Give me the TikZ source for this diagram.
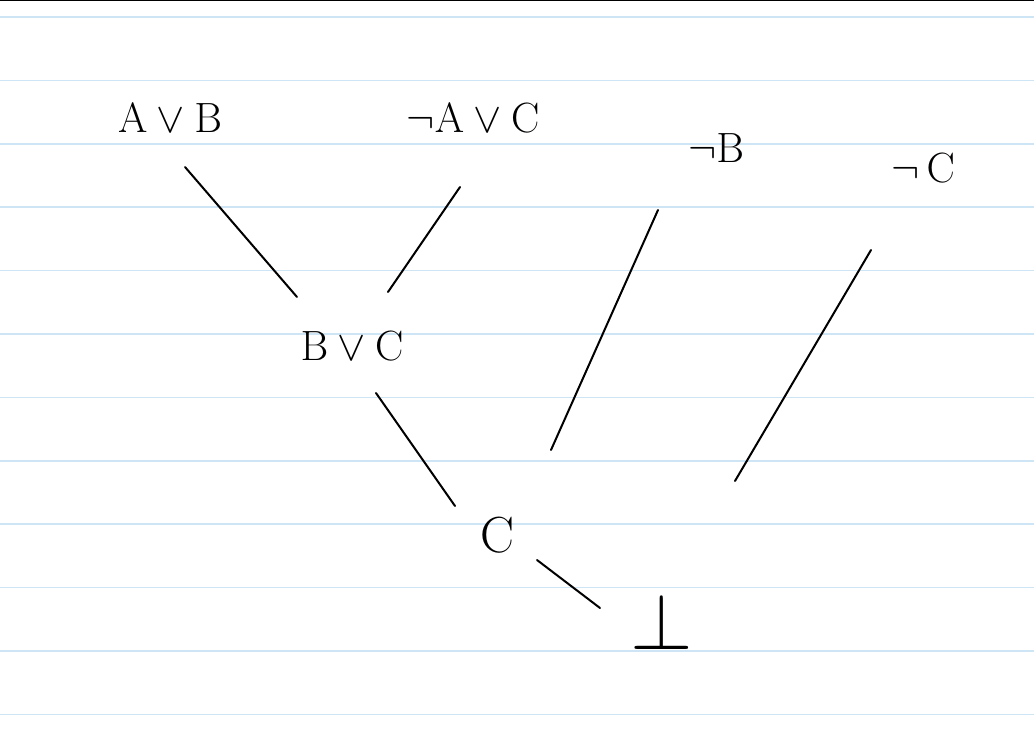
\documentclass[tikz,border=0pt]{standalone}
\usepackage{amsmath}
\usepackage{amssymb}
\usepackage{xcolor}
\usepackage{tikz}
\usetikzlibrary{calc}
\definecolor{ruleblue}{RGB}{206,229,246}

\begin{document}
\begin{tikzpicture}[x=1pt,y=-1pt,line width=2pt,
    lbl/.style={inner sep=0pt,font=\Huge,scale=1.7},
    edge/.style={line cap=round}]
			\useasboundingbox (0,0) rectangle (1034,743);
			% paper
			\foreach \k in {0,...,11}
				\draw[ruleblue,line width=1.6pt] (0,17+63.4*\k) -- (1034,17+63.4*\k);
			\draw[line width=2pt] (0,0.5) -- (1034,0.5);
			% clauses
			\node[lbl] (avb) at (170,118) {$\mathrm{A}\vee\mathrm{B}$};
			\node[lbl] (nac) at (473,118) {$\neg\mathrm{A}\vee\mathrm{C}$};
			\node[lbl] (nb) at (716,148) {$\neg\mathrm{B}$};
			\node[lbl] (nc) at (923,168) {$\neg\,\mathrm{C}$};
			\node[lbl] (bvc) at (352,346) {$\mathrm{B}\vee\mathrm{C}$};
			\node[lbl,scale=1.2] (c) at (497,535) {$\mathrm{C}$};
			\node[lbl,scale=1.9] (bot) at (662,622) {$\bot$};
			% resolution steps
			\draw[edge] ($(avb)+(15,49)$) -- ($(bvc)+(-55,-49)$);
			\draw[edge] ($(nac)+(-13,69)$) -- ($(bvc)+(36,-54)$);
			\draw[edge] ($(bvc)+(24,47)$) -- ($(c)+(-42,-29)$);
			\draw[edge] ($(nb)+(-58,62)$) -- ($(c)+(54,-85)$);
			\draw[edge] ($(c)+(40,25)$) -- ($(bot)+(-62,-14)$);
			\draw[edge] ($(nc)+(-52,82)$) -- ($(bot)+(73,-141)$);
		\end{tikzpicture}
\end{document}
